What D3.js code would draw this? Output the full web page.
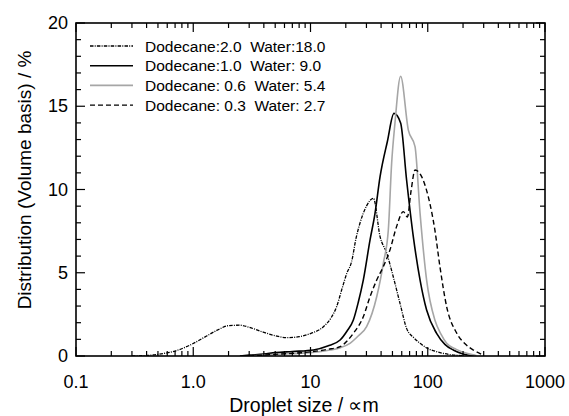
<!DOCTYPE html>
<html><head><meta charset="utf-8">
<script src="https://cdn.jsdelivr.net/npm/d3@7"></script>
<style>
html,body{margin:0;padding:0;background:#fff;}
svg{display:block;font-family:"Liberation Sans",Arial,sans-serif;}
</style></head>
<body>
<svg id="chart" width="569" height="416"></svg>
<script>
// ---- data (droplet size in µm, distribution in %) ----
const legendLabels = ["Dodecane:2.0  Water:18.0","Dodecane:1.0  Water: 9.0","Dodecane: 0.6  Water: 5.4","Dodecane: 0.3  Water: 2.7"];
const xTickValues = [0.1, 1, 10, 100, 1000];
const xTickLabels = ["0.1", "1.0", "10", "100", "1000"];
const yTickValues = [0, 5, 10, 15, 20];

const size1 = [0.3,0.4,0.5,0.7,1.0,1.3,1.6,2.0,2.5,3.0,4.0,5.0,6.3,8.0,10,12.9,15,16.7,18.5,20.4,22.4,24.5,26.4,30,34.4,39.2,44.7,50.8,58,66,76,86,100,119,150,200];
const dist1 = [0,0.03,0.1,0.3,0.75,1.2,1.55,1.82,1.85,1.72,1.42,1.22,1.1,1.16,1.35,1.76,2.3,2.96,4.0,4.97,5.66,7.1,7.97,9.0,9.47,7.17,6.17,4.76,3.16,1.66,1.1,0.76,0.45,0.26,0.1,0.02];

const size2 = [2.5,3,4,5,7,10.6,14,17.9,20.5,23.2,25.5,28.2,32.2,35.5,39.2,45.2,51.5,58.7,66,75.3,86,97.8,119,140,165,200,250];
const dist2 = [0,0.05,0.12,0.2,0.27,0.36,0.6,0.96,1.5,2.16,3.2,4.56,6.97,8.57,10.77,12.87,14.57,14.0,10.57,7.17,4.56,2.76,1.36,0.7,0.36,0.12,0.02];

const size3 = [3,5,10,14.7,18,21.7,25.5,30.1,36.7,41.8,46.1,49.2,52.5,58.7,68.3,77.9,86,97.8,115,130,145,175,215,260];
const dist3 = [0,0.1,0.2,0.36,0.5,0.76,1.2,1.76,3.56,5.57,7.57,11.57,13.97,16.8,13.57,12.57,8.57,4.56,2.16,1.3,0.76,0.4,0.16,0.03];

const size4 = [3,5,10,14,17.9,20.5,23.2,28.2,32.2,36.7,41.8,47.6,54.2,61.9,67,72,77.9,88.7,101,115,127,145,177,210,245,300];
const dist4 = [0,0.1,0.25,0.4,0.56,0.9,1.36,2.36,3.56,4.56,5.37,6.37,7.77,8.67,8.35,9.9,11.17,10.77,9.57,7.57,5.37,2.96,1.36,0.7,0.36,0.05];

// ---- layout ----
const W = 569, H = 416;
const m = {left: 76, top: 23, right: 24, bottom: 60};
const iw = W - m.left - m.right, ih = H - m.top - m.bottom;
const svg = d3.select("#chart");
const g = svg.append("g").attr("transform", `translate(${m.left},${m.top})`);

const x = d3.scaleLog().domain([0.1, 1000]).range([0, iw]);
const y = d3.scaleLinear().domain([0, 20]).range([ih, 0]);

const series = [
  {xs: size1, ys: dist1, color: "#000", width: 1.3, dash: "3.5,1.2,1,1.2"},
  {xs: size2, ys: dist2, color: "#000", width: 1.6, dash: null},
  {xs: size3, ys: dist3, color: "#a6a6a6", width: 1.6, dash: null},
  {xs: size4, ys: dist4, color: "#000", width: 1.4, dash: "5,3"}
];

g.append("clipPath").attr("id","clip").append("rect").attr("width", iw).attr("height", ih);

const line = d3.line().x(d => x(d[0])).y(d => y(d[1])).curve(d3.curveMonotoneX);
series.forEach(s => {
  const pts = s.xs.map((v, i) => [v, s.ys[i]]);
  g.append("path").attr("clip-path","url(#clip)")
    .attr("d", line(pts)).attr("fill","none")
    .attr("stroke", s.color).attr("stroke-width", s.width)
    .attr("stroke-dasharray", s.dash);
});

// ---- ticks ----
const majorLen = 9, minorLen = 5;
const xMinor = [];
for (let e = -1; e < 3; e++) for (let k = 2; k <= 9; k++) xMinor.push(k * Math.pow(10, e));
const yMinor = d3.range(0, 21).filter(v => v % 5 !== 0);

const tk = g.append("g").attr("stroke","#000").attr("stroke-width",1.2);
xTickValues.forEach(v => {
  tk.append("line").attr("x1",x(v)).attr("x2",x(v)).attr("y1",ih).attr("y2",ih-majorLen);
  tk.append("line").attr("x1",x(v)).attr("x2",x(v)).attr("y1",0).attr("y2",majorLen);
});
xMinor.forEach(v => {
  tk.append("line").attr("x1",x(v)).attr("x2",x(v)).attr("y1",ih).attr("y2",ih-minorLen);
  tk.append("line").attr("x1",x(v)).attr("x2",x(v)).attr("y1",0).attr("y2",minorLen);
});
yTickValues.forEach(v => {
  tk.append("line").attr("x1",0).attr("x2",majorLen).attr("y1",y(v)).attr("y2",y(v));
  tk.append("line").attr("x1",iw).attr("x2",iw-majorLen).attr("y1",y(v)).attr("y2",y(v));
});
yMinor.forEach(v => {
  tk.append("line").attr("x1",0).attr("x2",minorLen).attr("y1",y(v)).attr("y2",y(v));
  tk.append("line").attr("x1",iw).attr("x2",iw-minorLen).attr("y1",y(v)).attr("y2",y(v));
});

// frame
g.append("rect").attr("width", iw).attr("height", ih).attr("fill","none").attr("stroke","#000").attr("stroke-width",1.6);

// tick labels
xTickValues.forEach((v, i) => {
  g.append("text").attr("x", x(v)).attr("y", ih + 32).attr("text-anchor","middle")
    .attr("font-size", 18).text(xTickLabels[i]);
});
yTickValues.forEach(v => {
  g.append("text").attr("x", -8).attr("y", y(v) + 6).attr("text-anchor","end")
    .attr("font-size", 18).text(String(v));
});

// axis titles
svg.append("text").attr("x", 304).attr("y", 412).attr("text-anchor","middle")
  .attr("font-size", 19.5).text("Droplet size / ∝m");
svg.append("text").attr("transform", `translate(31,180) rotate(-90)`)
  .attr("text-anchor","middle").attr("font-size", 19).text("Distribution (Volume basis) / %");

// legend
const lg = g.append("g");
legendLabels.forEach((lab, i) => {
  const s = series[i];
  const yy = 23 + i * 19.7;
  lg.append("line").attr("x1", 14).attr("x2", 57).attr("y1", yy).attr("y2", yy)
    .attr("stroke", s.color).attr("stroke-width", s.width).attr("stroke-dasharray", s.dash);
  lg.append("text").attr("x", 69).attr("y", yy + 5.5).attr("font-size", 15.5)
    .style("white-space","pre").text(lab);
});
</script>
</body></html>
